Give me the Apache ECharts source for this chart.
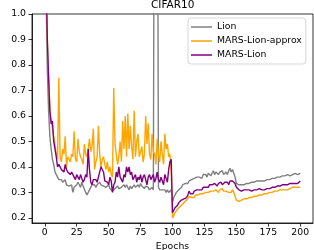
<!DOCTYPE html>
<html><head><meta charset="utf-8">
<script src="https://cdn.jsdelivr.net/npm/echarts@6/dist/echarts.min.js"></script>
<style>html,body{margin:0;padding:0;background:#fff}#c{width:314px;height:250px}</style>
</head><body><div id="c"></div>
<script>
const title = 'CIFAR10';
const xName = 'Epochs';
const yName = 'Test loss';
const seriesNames = ['Lion', 'MARS-Lion-approx', 'MARS-Lion'];
const xTicks = [0, 25, 50, 75, 100, 125, 150, 175, 200];
const yTicks = [0.2, 0.3, 0.4, 0.5, 0.6, 0.7, 0.8, 0.9, 1.0];
const epochs = Array.from({length: 200}, (_, i) => i + 1);

const lion = [
1.10,0.78,0.62,0.52,0.47,0.43,0.41,0.38,0.37,0.36,
0.35,0.345,0.35,0.34,0.335,0.35,0.33,0.335,0.325,0.33,
0.33,0.30,0.32,0.32,0.33,0.34,0.33,0.32,0.34,0.325,
0.32,0.30,0.29,0.295,0.31,0.32,0.33,0.325,0.33,0.32,
0.33,0.335,0.34,0.33,0.335,0.325,0.33,0.32,0.325,0.33,
0.315,0.31,0.305,0.31,0.315,0.32,0.325,0.315,0.31,0.32,
0.325,0.33,0.32,0.33,0.32,0.31,0.325,0.315,0.32,0.33,
0.32,0.325,0.33,0.32,0.335,0.325,0.32,0.315,0.325,0.33,
0.32,0.31,0.315,0.32,0.31,0.315,4.0,4.0,0.32,0.31,
0.315,0.31,0.305,0.31,0.30,0.31,0.30,0.305,0.31,0.26,
0.28,0.29,0.30,0.30,0.31,0.315,0.32,0.33,0.325,0.335,
0.34,0.335,0.345,0.34,0.35,0.345,0.355,0.35,0.36,0.355,
0.36,0.365,0.355,0.37,0.365,0.37,0.36,0.375,0.37,0.365,
0.375,0.385,0.37,0.38,0.375,0.37,0.38,0.375,0.385,0.37,
0.375,0.38,0.37,0.385,0.395,0.38,0.39,0.375,0.36,0.335,
0.33,0.33,0.325,0.33,0.325,0.33,0.33,0.335,0.33,0.335,
0.335,0.34,0.335,0.34,0.34,0.345,0.34,0.345,0.345,0.345,
0.35,0.345,0.35,0.35,0.355,0.35,0.35,0.355,0.36,0.355,
0.36,0.36,0.365,0.36,0.365,0.365,0.37,0.365,0.365,0.37,
0.37,0.365,0.37,0.37,0.37,0.375,0.37,0.37,0.375,0.375
];

const marsLionApprox = [
1.15,0.90,0.75,0.63,0.58,0.55,0.52,0.49,0.45,0.43,
0.75,0.44,0.42,0.47,0.45,0.52,0.40,0.44,0.43,0.42,
0.45,0.44,0.54,0.43,0.42,0.51,0.46,0.44,0.43,0.41,
0.49,0.45,0.44,0.47,0.51,0.46,0.48,0.55,0.39,0.42,
0.44,0.56,0.45,0.40,0.43,0.44,0.41,0.39,0.42,0.38,
0.40,0.37,0.36,0.71,0.49,0.45,0.41,0.44,0.50,0.42,
0.58,0.47,0.60,0.44,0.61,0.47,0.56,0.48,0.43,0.62,
0.44,0.50,0.53,0.44,0.46,0.48,0.42,0.45,0.60,0.49,
0.57,0.45,0.43,0.53,0.46,0.45,0.41,0.51,0.45,0.42,
0.50,0.45,0.41,0.53,0.47,0.49,0.44,0.45,0.38,0.20,
0.21,0.22,0.225,0.235,0.24,0.245,0.25,0.255,0.26,0.265,
0.27,0.275,0.285,0.28,0.28,0.285,0.28,0.29,0.285,0.29,
0.29,0.295,0.29,0.295,0.295,0.30,0.295,0.30,0.30,0.305,
0.30,0.305,0.30,0.31,0.305,0.30,0.31,0.305,0.315,0.305,
0.31,0.305,0.31,0.30,0.305,0.30,0.31,0.30,0.285,0.27,
0.265,0.265,0.27,0.27,0.27,0.275,0.275,0.275,0.28,0.28,
0.28,0.28,0.285,0.285,0.285,0.285,0.29,0.29,0.29,0.29,
0.29,0.295,0.295,0.295,0.30,0.30,0.30,0.30,0.30,0.305,
0.305,0.305,0.305,0.31,0.31,0.31,0.31,0.31,0.315,0.31,
0.315,0.315,0.315,0.32,0.315,0.32,0.32,0.32,0.32,0.32
];

const marsLion = [
1.15,0.90,0.75,0.62,0.57,0.58,0.50,0.47,0.44,0.40,
0.41,0.40,0.39,0.395,0.38,0.41,0.39,0.38,0.385,0.37,
0.38,0.385,0.36,0.35,0.37,0.36,0.35,0.37,0.355,0.34,
0.35,0.37,0.36,0.47,0.39,0.34,0.33,0.35,0.345,0.35,
0.34,0.36,0.355,0.40,0.39,0.38,0.345,0.35,0.34,0.33,
0.36,0.345,0.30,0.33,0.34,0.38,0.36,0.40,0.36,0.35,
0.34,0.37,0.36,0.40,0.38,0.40,0.37,0.38,0.35,0.36,
0.37,0.34,0.36,0.35,0.37,0.34,0.36,0.37,0.35,0.33,
0.36,0.37,0.35,0.36,0.37,0.34,0.355,0.38,0.35,0.34,
0.36,0.345,0.33,0.37,0.355,0.34,0.39,0.42,0.43,0.22,
0.23,0.24,0.245,0.25,0.26,0.255,0.27,0.265,0.275,0.28,
0.28,0.29,0.305,0.295,0.30,0.295,0.305,0.30,0.31,0.305,
0.31,0.315,0.31,0.32,0.315,0.32,0.325,0.32,0.33,0.325,
0.33,0.325,0.335,0.33,0.325,0.335,0.33,0.34,0.33,0.335,
0.34,0.335,0.34,0.33,0.345,0.34,0.345,0.34,0.335,0.32,
0.315,0.31,0.31,0.305,0.305,0.31,0.305,0.31,0.305,0.31,
0.31,0.305,0.31,0.31,0.305,0.31,0.31,0.315,0.31,0.31,
0.315,0.31,0.315,0.315,0.32,0.315,0.315,0.32,0.32,0.32,
0.32,0.325,0.32,0.325,0.325,0.33,0.325,0.33,0.33,0.33,
0.33,0.335,0.33,0.335,0.335,0.335,0.34,0.335,0.34,0.345
];

const colors = ['#808080', '#FFA500', '#800080'];
const valuesList = [lion, marsLionApprox, marsLion];
const FONT = 'DejaVu Sans';

const chart = echarts.init(document.getElementById('c'), null, {renderer: 'canvas'});
chart.setOption({
  animation: false,
  backgroundColor: '#fff',
  title: {text: title, left: 151, top: 0, padding: 0,
    textStyle: {fontFamily: FONT, fontSize: 10.5, fontWeight: 'normal', color: '#000', lineHeight: 11}},
  legend: {
    data: seriesNames.map(n => ({name: n, icon: 'rect'})),
    orient: 'vertical', left: 188, top: 18,
    itemWidth: 21, itemHeight: 1.5, itemGap: 0, padding: [2, 4, 2, 3],
    borderColor: '#cccccc', borderWidth: 0.8, borderRadius: 3,
    backgroundColor: 'rgba(255,255,255,0.8)',
    textStyle: {fontFamily: FONT, fontSize: 9.3, color: '#000', lineHeight: 14}
  },
  grid: {left: 32, right: 1, top: 14, bottom: 27, containLabel: false, outerBoundsMode: 'none',
    show: true, borderColor: '#000', borderWidth: 0.8, backgroundColor: 'transparent'},
  xAxis: {
    type: 'value', min: -10, max: 210,
    name: xName, nameLocation: 'middle', nameGap: 16,
    nameTextStyle: {fontFamily: FONT, fontSize: 9.3, color: '#000'},
    axisLine: {show: true, onZero: false, lineStyle: {color: '#000', width: 0.8}},
    axisTick: {show: true, length: 3.5, customValues: xTicks, lineStyle: {color: '#000', width: 0.8}},
    axisLabel: {customValues: xTicks, margin: 5, fontFamily: FONT, fontSize: 9.3, color: '#000'},
    splitLine: {show: false}
  },
  yAxis: {
    type: 'value', min: 0.18, max: 1.0,
    name: yName, nameLocation: 'middle', nameGap: 22,
    nameTextStyle: {fontFamily: FONT, fontSize: 9.3, color: '#000'},
    axisLine: {show: true, onZero: false, lineStyle: {color: '#000', width: 0.8}},
    axisTick: {show: true, length: 3.5, customValues: yTicks, lineStyle: {color: '#000', width: 0.8}},
    axisLabel: {customValues: yTicks, margin: 6, fontFamily: FONT, fontSize: 9.3, color: '#000',
      formatter: v => v.toFixed(1)},
    splitLine: {show: false}
  },
  series: seriesNames.map((name, k) => ({
    name, type: 'line', symbol: 'none', clip: true,
    data: epochs.map((e, i) => [e, valuesList[k][i]]),
    lineStyle: {color: colors[k], width: 1.4},
    itemStyle: {color: colors[k]},
    z: 2 + k
  }))
});
</script></body></html>
